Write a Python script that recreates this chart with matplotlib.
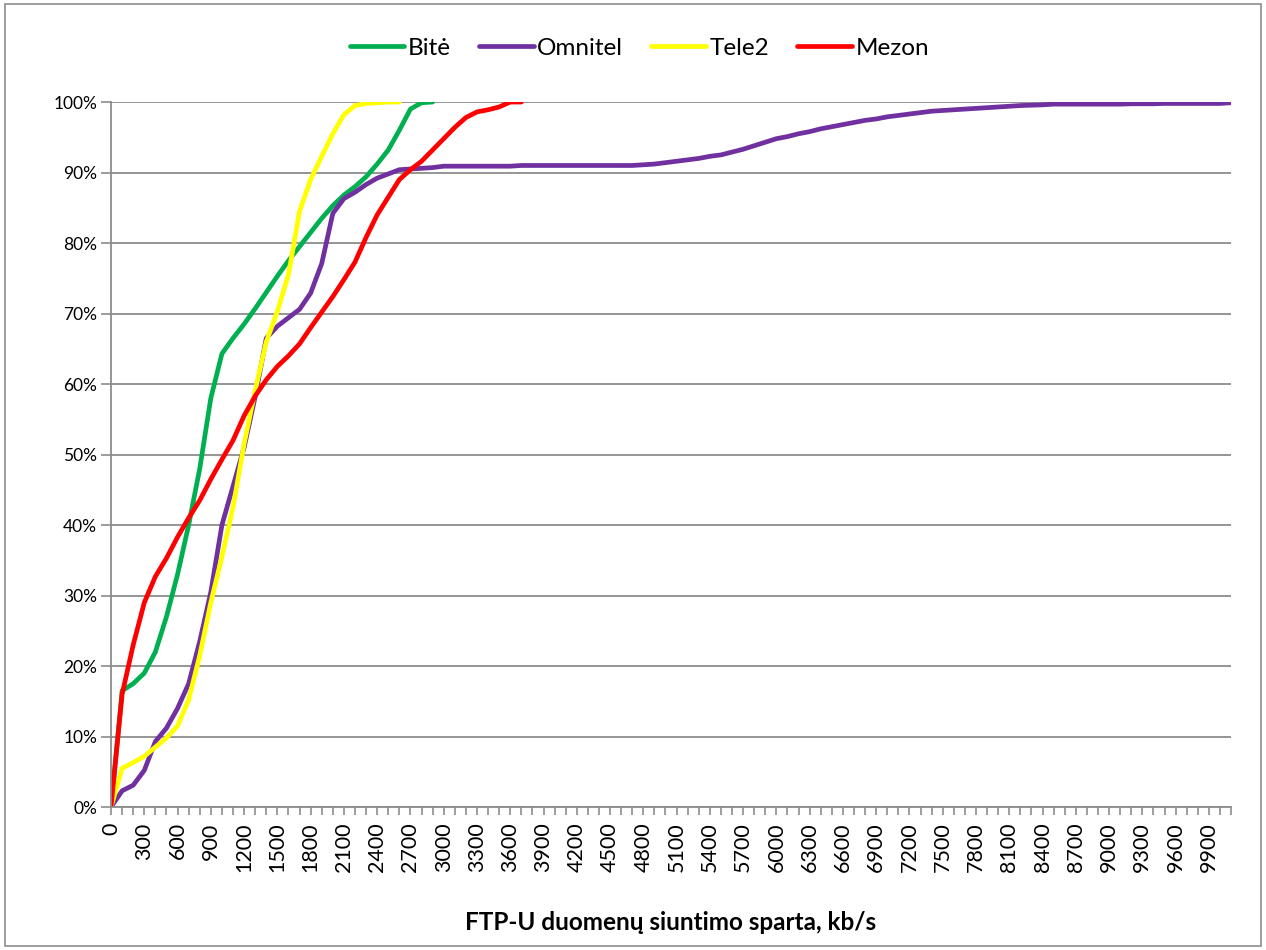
import numpy as np
import matplotlib
matplotlib.use("Agg")
import matplotlib.pyplot as plt
from matplotlib.patches import Rectangle

# categories: upload speed, kb/s (step 100)
speeds = list(range(0, 10200, 100))

bite = [0, 16.5, 17.5, 19, 22, 27, 33, 40, 48, 58, 64.3,
        66.5, 68.5, 70.7, 73, 75.3, 77.5, 79.5, 81.5, 83.5, 85.3,
        86.8, 88, 89.4, 91.2, 93.2, 96, 99, 99.9, 100]
omnitel = [0, 2.3, 3.1, 5.2, 9.3, 11.2, 14, 17.5, 23.5, 30.5, 40,
           45.5, 51, 58.2, 66.5, 68.2, 69.4, 70.6, 72.9, 77.1, 84.2,
           86.3, 87.2, 88.3, 89.2, 89.8, 90.4, 90.5, 90.6, 90.7, 90.9,
           90.9, 90.9, 90.9, 90.9, 90.9, 90.9, 91.0, 91.0, 91.0, 91.0,
           91.0, 91.0, 91.0, 91.0, 91.0, 91.0, 91.0, 91.1, 91.2, 91.4,
           91.6, 91.8, 92.0, 92.3, 92.5, 92.9, 93.3, 93.8, 94.3, 94.8,
           95.1, 95.5, 95.8, 96.2, 96.5, 96.8, 97.1, 97.4, 97.6, 97.9,
           98.1, 98.3, 98.5, 98.7, 98.8, 98.9, 99.0, 99.1, 99.2, 99.3,
           99.4, 99.5, 99.55, 99.6, 99.7, 99.7, 99.7, 99.7, 99.7, 99.7,
           99.7, 99.75, 99.75, 99.75, 99.8, 99.8, 99.8, 99.8, 99.8, 99.8,
           99.9, 100]
tele2 = [0, 5.5, 6.3, 7.2, 8.5, 9.8, 11.5, 15.2, 21.5, 29, 35.5,
         42.5, 51.5, 59.1, 66, 70.3, 75.5, 84.5, 89, 92.3, 95.5,
         98.2, 99.5, 99.8, 99.9, 100, 100]
mezon = [0, 16, 23, 29, 32.7, 35.3, 38.3, 41, 43.5, 46.5, 49.3,
         52, 55.5, 58.3, 60.6, 62.5, 64, 65.7, 68, 70.2, 72.4,
         74.8, 77.3, 80.8, 84, 86.5, 89, 90.4, 91.6, 93.2, 94.8,
         96.4, 97.8, 98.6, 98.9, 99.3, 100, 100]

series = [("Bitė", bite, "#00B050"),
          ("Omnitel", omnitel, "#7030A0"),
          ("Tele2", tele2, "#FFFF00"),
          ("Mezon", mezon, "#FF0000")]

plt.rcParams["font.family"] = ["Lato", "DejaVu Sans"]

fig = plt.figure(figsize=(12.66, 9.5), dpi=100)
fig.patches.append(Rectangle((0.004, 0.004), 0.992, 0.992, transform=fig.transFigure,
                             fill=False, edgecolor="#8c8c8c", lw=1.2))
ax = fig.add_axes([0.0877, 0.1505, 0.8847, 0.7421])

for name, vals, col in series:
    ax.plot(np.arange(len(vals)), vals, color=col, lw=3.4, label=name,
            solid_capstyle="round", solid_joinstyle="round")

ax.set_xlim(0, len(speeds) - 1)
ax.set_ylim(0, 100)
ax.set_yticks(np.arange(0, 101, 10))
ax.set_yticklabels([f"{v}%" for v in range(0, 101, 10)], fontsize=12.5)
ax.set_xticks(np.arange(len(speeds)), minor=True)
ax.set_xticks(np.arange(0, len(speeds), 3))
ax.set_xticklabels([str(s) for s in speeds[::3]], rotation=90, fontsize=15.5)
ax.tick_params(axis="x", which="both", length=6, color="#8c8c8c", width=1.2, pad=5)
ax.tick_params(axis="y", length=7, color="#8c8c8c", width=1.2, pad=3)
ax.grid(axis="y", color="#8c8c8c", lw=1.3)
ax.set_axisbelow(True)
for s in ("top", "right"):
    ax.spines[s].set_visible(False)
for s in ("left", "bottom"):
    ax.spines[s].set_color("#8c8c8c")
    ax.spines[s].set_linewidth(1.3)

ax.set_xlabel("FTP-U duomenų siuntimo sparta, kb/s", fontsize=17.5, fontweight="bold", labelpad=28)

fig.legend(loc="center", bbox_to_anchor=(0.505, 0.949), ncol=4, frameon=False,
           fontsize=17.5, handlelength=2.25, handletextpad=0.15, columnspacing=1.15)

fig.savefig("out.png", dpi=100)
